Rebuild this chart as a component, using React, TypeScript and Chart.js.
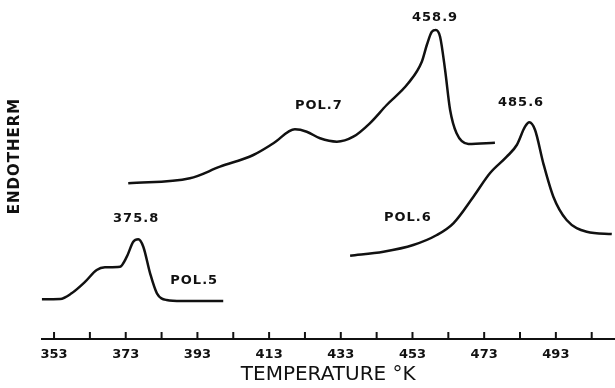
import { useEffect, useRef } from 'react';
import { Chart, registerables } from 'chart.js';

Chart.register(...registerables);

// Temperature (°K) and endotherm signal (arbitrary units)
const pol5Temp = [349.6, 354.7, 357.9, 361.7, 364.9, 367.2, 371.4, 373.3, 375.1, 376.5, 377.9, 379.8, 381.7, 384.4, 388.6, 400.2];
const pol5Signal = [39.7, 40, 45.7, 57.3, 69, 71.7, 72.3, 82.3, 97.3, 99.7, 92.3, 65.7, 45.7, 39, 38, 38];

const pol7Temp = [373.7, 390.9, 399.3, 408.6, 414.2, 420.2, 423.5, 427.2, 431.9, 436.5, 441.1, 445.8, 451.8, 455.6, 457.0, 458.4, 459.5, 460.7, 462.1, 463.5, 465.3, 468.6, 476.0];
const pol7Signal = [155.7, 160.7, 172.3, 184, 195.7, 209.7, 207.3, 200.7, 197.3, 202.3, 215.7, 234, 255.7, 277.3, 294, 307.3, 309, 302.3, 269, 229, 205.7, 195, 196.3];

const pol6Temp = [435.6, 444.9, 453.2, 459.8, 464.4, 470.0, 474.6, 479.3, 482.1, 484.4, 485.6, 487.2, 489.5, 492.3, 496.0, 501.6, 508.6];
const pol6Signal = [83.3, 87.3, 94, 104, 115.7, 142.3, 165.7, 182.3, 194, 212.3, 216.7, 209, 175.7, 142.3, 119, 107.3, 105];

// Axis ticks
const tickValues = [353, 363, 373, 383, 393, 403, 413, 423, 433, 443, 453, 463, 473, 483, 493, 503];
const tickLabels = [353, 373, 393, 413, 433, 453, 473, 493];

// Annotations
const labelTexts = ['375.8', 'POL.5', 'POL.7', '458.9', '485.6', 'POL.6'];
const labelTemps = [375.9, 392.1, 426.9, 459.3, 483.3, 451.7];
const labelSignals = [120, 58, 233, 321, 236, 121.5];

const yTitleText = 'ENDOTHERM';
const yTitleSignal = 183;

const INK = '#111';

function toPoints(xs: number[], ys: number[]) {
  return xs.map((x, i) => ({ x, y: ys[i] }));
}

const annotationPlugin = {
  id: 'annotations',
  afterDraw(chart: any) {
    const { ctx, chartArea } = chart;
    const xs = chart.scales.x;
    const ys = chart.scales.y;
    ctx.save();
    // inward tick marks
    ctx.strokeStyle = INK;
    ctx.lineWidth = 2;
    tickValues.forEach((v) => {
      const px = xs.getPixelForValue(v);
      ctx.beginPath();
      ctx.moveTo(px, chartArea.bottom);
      ctx.lineTo(px, chartArea.bottom - 7);
      ctx.stroke();
    });
    // text labels
    ctx.fillStyle = INK;
    ctx.font = 'bold 13px "DejaVu Sans"';
    ctx.textAlign = 'center';
    ctx.textBaseline = 'middle';
    try { (ctx as any).letterSpacing = '1px'; } catch (e) {}
    labelTexts.forEach((t, i) => {
      ctx.fillText(t, xs.getPixelForValue(labelTemps[i]), ys.getPixelForValue(labelSignals[i]));
    });
    // y title
    ctx.font = 'bold 15px "DejaVu Sans"';
    ctx.translate(chartArea.left - 26, ys.getPixelForValue(yTitleSignal));
    ctx.rotate(-Math.PI / 2);
    ctx.fillText(yTitleText, 0, 0);
    ctx.restore();
  },
};

export default function App() {
  const ref = useRef<HTMLCanvasElement | null>(null);
  useEffect(() => {
    document.body.style.margin = '0';
    if (!ref.current) return;
    const lineStyle = {
      borderColor: INK,
      borderWidth: 2.5,
      pointRadius: 0,
      fill: false,
      cubicInterpolationMode: 'monotone' as const,
    };
    const chart = new Chart(ref.current, {
      type: 'line',
      data: {
        datasets: [
          { label: 'POL.5', data: toPoints(pol5Temp, pol5Signal), ...lineStyle },
          { label: 'POL.7', data: toPoints(pol7Temp, pol7Signal), ...lineStyle },
          { label: 'POL.6', data: toPoints(pol6Temp, pol6Signal), ...lineStyle },
        ],
      },
      options: {
        animation: false,
        responsive: false,
        layout: { padding: { left: 41.5, top: 9, right: 0, bottom: 0 } },
        plugins: { legend: { display: false }, tooltip: { enabled: false } },
        scales: {
          x: {
            type: 'linear',
            min: 349.5,
            max: 509.5,
            afterBuildTicks: (scale: any) => {
              scale.ticks = tickValues.map((v) => ({ value: v }));
            },
            grid: { display: false, drawTicks: false },
            border: { display: true, color: INK, width: 2 },
            ticks: {
              autoSkip: false,
              maxRotation: 0,
              padding: 8,
              color: INK,
              font: { family: '"DejaVu Sans"', size: 13, weight: 'bold' },
              callback: (v: any) => (tickLabels.includes(Number(v)) ? String(v) : ''),
            },
            title: {
              display: true,
              text: 'TEMPERATURE °K',
              color: INK,
              font: { family: '"DejaVu Sans"', size: 20 },
              padding: { top: -8, bottom: 1.4 },
            },
          },
          y: {
            display: false,
            min: 0,
            max: 330,
          },
        },
      },
      plugins: [annotationPlugin],
    });
    return () => chart.destroy();
  }, []);
  return <canvas ref={ref} width={615} height={388} style={{ display: 'block' }} />;
}
